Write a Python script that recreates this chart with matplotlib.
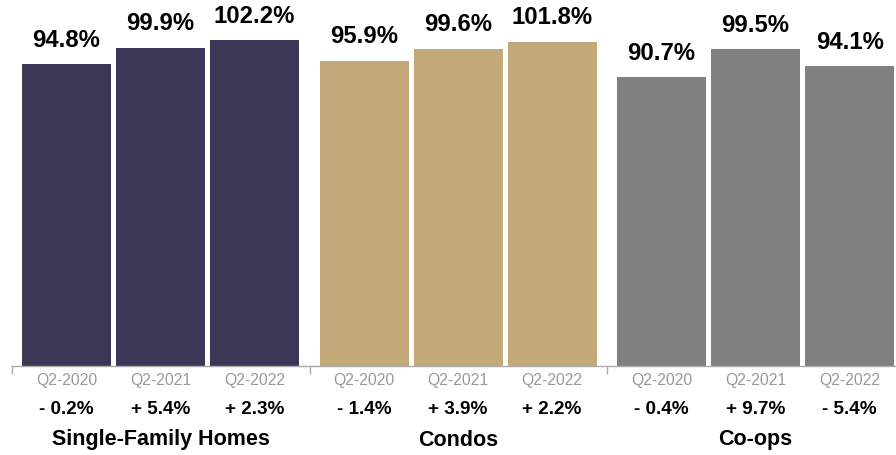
import matplotlib.pyplot as plt
from matplotlib.transforms import blended_transform_factory

groups = ["Single-Family Homes", "Condos", "Co-ops"]
quarters = ["Q2-2020", "Q2-2021", "Q2-2022"]
values = [
    [94.8, 99.9, 102.2],
    [95.9, 99.6, 101.8],
    [90.7, 99.5, 94.1],
]
changes = [
    ["- 0.2%", "+ 5.4%", "+ 2.3%"],
    ["- 1.4%", "+ 3.9%", "+ 2.2%"],
    ["- 0.4%", "+ 9.7%", "- 5.4%"],
]
colors = ["#3a3757", "#c3a878", "#808080"]

plt.rcParams["font.family"] = ["Liberation Sans", "DejaVu Sans"]

W, H = 896, 455
fig = plt.figure(figsize=(W / 100, H / 100), dpi=100)
ax = fig.add_axes([12 / W, 89 / H, 884 / W, 366 / H])

group_step = 3.165
bar_width = 0.947

for g, group in enumerate(groups):
    xs = [g * group_step + i for i in range(len(quarters))]
    ax.bar(xs, values[g], width=bar_width, color=colors[g], zorder=2)
    for x, v in zip(xs, values[g]):
        ax.annotate(f"{v}%", (x, v), xytext=(0, 12.5), textcoords="offset points",
                    ha="center", va="baseline", fontsize=17.2, fontweight="bold",
                    color="black")
    trans = blended_transform_factory(ax.transData, fig.transFigure)
    for x, q, c in zip(xs, quarters, changes[g]):
        ax.text(x, 1 - 381 / H, q, transform=trans, ha="center", va="center",
                fontsize=11.3, color="#999999")
        ax.text(x, 1 - 409 / H, c, transform=trans, ha="center", va="center",
                fontsize=13.6, fontweight="bold", color="black")
    ax.text(xs[1], 1 - 440 / H, group, transform=trans, ha="center",
            va="center", fontsize=15.5, fontweight="bold", color="black")

ax.set_xlim(-0.58, 8.824)
ax.set_ylim(0, 114.9)

boundaries = [g * group_step - 0.58 for g in range(len(groups))]
ax.set_xticks(boundaries)
ax.set_xticklabels([])
ax.set_yticks([])
ax.tick_params(axis="x", direction="out", length=6, width=1, color="#aaaaaa")
for side in ["top", "right", "left"]:
    ax.spines[side].set_visible(False)
ax.spines["bottom"].set_color("#aaaaaa")
ax.spines["bottom"].set_linewidth(1)

fig.savefig("out.png", dpi=100)
